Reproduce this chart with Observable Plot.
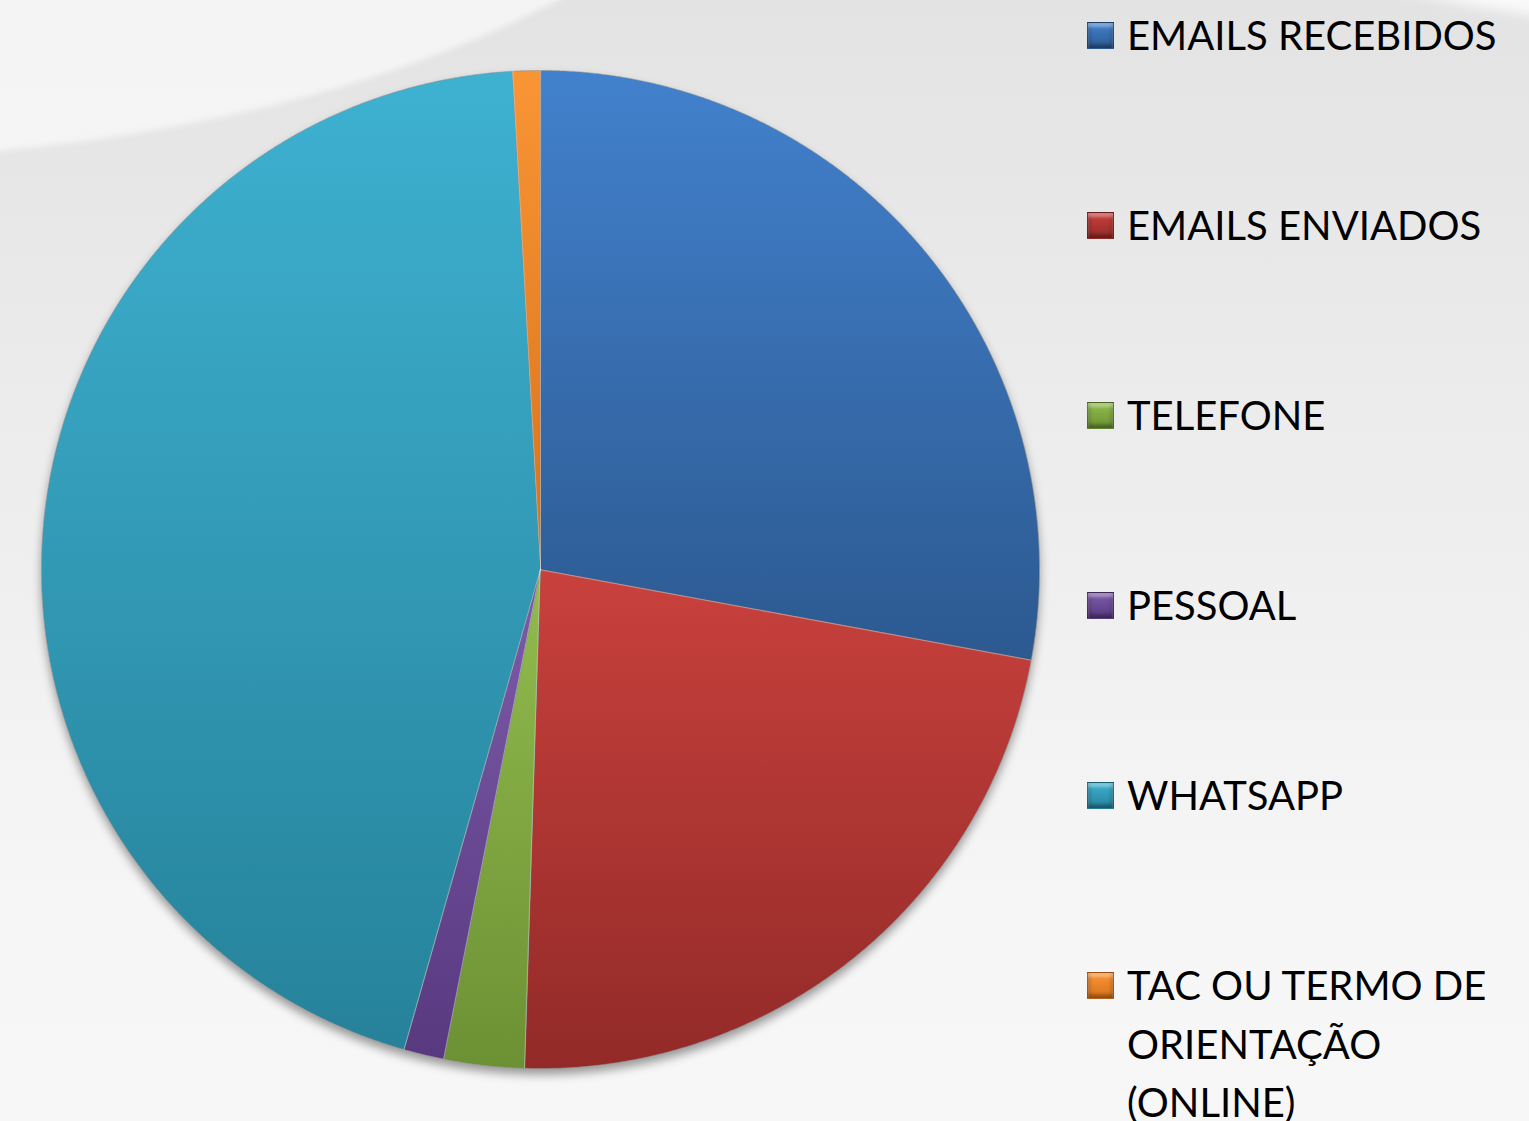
<!DOCTYPE html>
<html>
<head>
<meta charset="utf-8">
<script src="https://cdn.jsdelivr.net/npm/d3@7"></script>
<script src="https://cdn.jsdelivr.net/npm/@observablehq/plot@0.6"></script>
<style>
  html, body { margin: 0; padding: 0; }
  body {
    width: 1529px; height: 1121px; overflow: hidden; position: relative;
    background: linear-gradient(to bottom, #e3e3e3 0%, #e9e9e9 25%, #f0f0f0 55%, #f6f6f6 80%, #f7f7f7 100%);
    font-family: Lato, "Open Sans", sans-serif;
  }
  #lightTL {
    position: absolute; left: -1200px; top: -760px; width: 2000px; height: 920px;
    border-radius: 50%;
    background: rgba(250,250,250,0.75);
    filter: blur(3px);
  }
  #lightTR {
    position: absolute; left: 1300px; top: -60px; width: 700px; height: 90px;
    border-radius: 50%;
    background: rgba(255,255,255,0.8);
    filter: blur(6px);
    transform: rotate(6deg);
  }
  #chart { position: absolute; left: 0; top: 0; }
  #legend { position: absolute; left: 1087px; top: 0; width: 440px; }
  .item { position: absolute; left: 0; display: flex; align-items: flex-start; }
  .sw { flex: none; width: 27px; height: 27px; margin-top: 16px; box-sizing: border-box;
        border: 1px solid rgba(0,0,0,0.3);
        box-shadow: inset 0 4px 3px rgba(255,255,255,0.35), inset 3px 0 3px rgba(0,0,0,0.12), inset -3px 0 3px rgba(0,0,0,0.12), inset 0 -4px 3px rgba(0,0,0,0.25); }
  .lab { margin-left: 13px; width: 395px; font-size: 40px; line-height: 58.5px; color: #000; }
</style>
</head>
<body>
<div id="lightTL"></div>
<div id="lightTR"></div>
<div id="chart"></div>
<div id="legend"></div>
<script>
// Data
const categories = ["EMAILS RECEBIDOS", "EMAILS ENVIADOS", "TELEFONE", "PESSOAL", "WHATSAPP", "TAC OU TERMO DE ORIENTAÇÃO (ONLINE)"];
const values = [27.9, 22.6, 2.6, 1.3, 44.7, 0.9];
const topColors = ["#4281cd", "#c9413d", "#92bc4e", "#7d5bab", "#3eb1d1", "#f99535"];
const bottomColors = ["#2c5990", "#922a28", "#6c9134", "#58397f", "#26829a", "#d8721b"];

const data = categories.map((c, i) => ({category: c, value: values[i], grad: `url(#g${i})`}));

// pie angles (clockwise from top) via d3.pie
const arcs = d3.pie().sort(null).value(d => d.value)(data);
const features = arcs.map(a => {
  const n = Math.max(4, Math.ceil((a.endAngle - a.startAngle) / 0.005));
  const ring = [[0, 0]];
  for (let k = 0; k <= n; k++) {
    const t = a.startAngle + (a.endAngle - a.startAngle) * k / n;
    ring.push([Math.sin(t), Math.cos(t)]);
  }
  ring.push([0, 0]);
  return {type: "Feature", properties: {category: a.data.category, grad: a.data.grad}, geometry: {type: "Polygon", coordinates: [ring]}};
});

const chart = Plot.plot({
  width: 1080,
  height: 1121,
  marginLeft: 41, marginRight: 41, marginTop: 70, marginBottom: 53,
  style: {background: "transparent", overflow: "visible"},
  projection: {type: "reflect-y", domain: {type: "MultiPoint", coordinates: [[-1, -1], [1, 1]]}},
  color: {type: "identity"},
  marks: [
    Plot.geo(features, {fill: d => d.properties.grad, stroke: "rgba(0,0,0,0.3)", strokeWidth: 1}),
    Plot.geo(features, {fill: "none", stroke: "rgba(255,255,255,0.3)", strokeWidth: 1})
  ]
});

// gradients + shadow
const svg = d3.select(chart);
const defs = svg.insert("defs", ":first-child");
categories.forEach((c, i) => {
  const g = defs.append("linearGradient").attr("id", `g${i}`).attr("x1", 0).attr("y1", 0).attr("x2", 0).attr("y2", 1);
  g.append("stop").attr("offset", "0%").attr("stop-color", topColors[i]);
  g.append("stop").attr("offset", "100%").attr("stop-color", bottomColors[i]);
});
const geoGroups = svg.selectAll("g").filter(function() { return this.getAttribute("aria-label") === "geo"; });
geoGroups.filter((d, i) => i === 0).style("filter", "drop-shadow(0px 6px 5px rgba(0,0,0,0.38))");

document.getElementById("chart").appendChild(chart);

// legend
const legend = d3.select("#legend");
categories.forEach((c, i) => {
  const it = legend.append("div").attr("class", "item").style("top", `${6 + i * 190}px`);
  it.append("div").attr("class", "sw")
    .style("background", `linear-gradient(to bottom, ${topColors[i]}, ${bottomColors[i]})`);
  it.append("div").attr("class", "lab").text(c);
});
</script>
</body>
</html>
